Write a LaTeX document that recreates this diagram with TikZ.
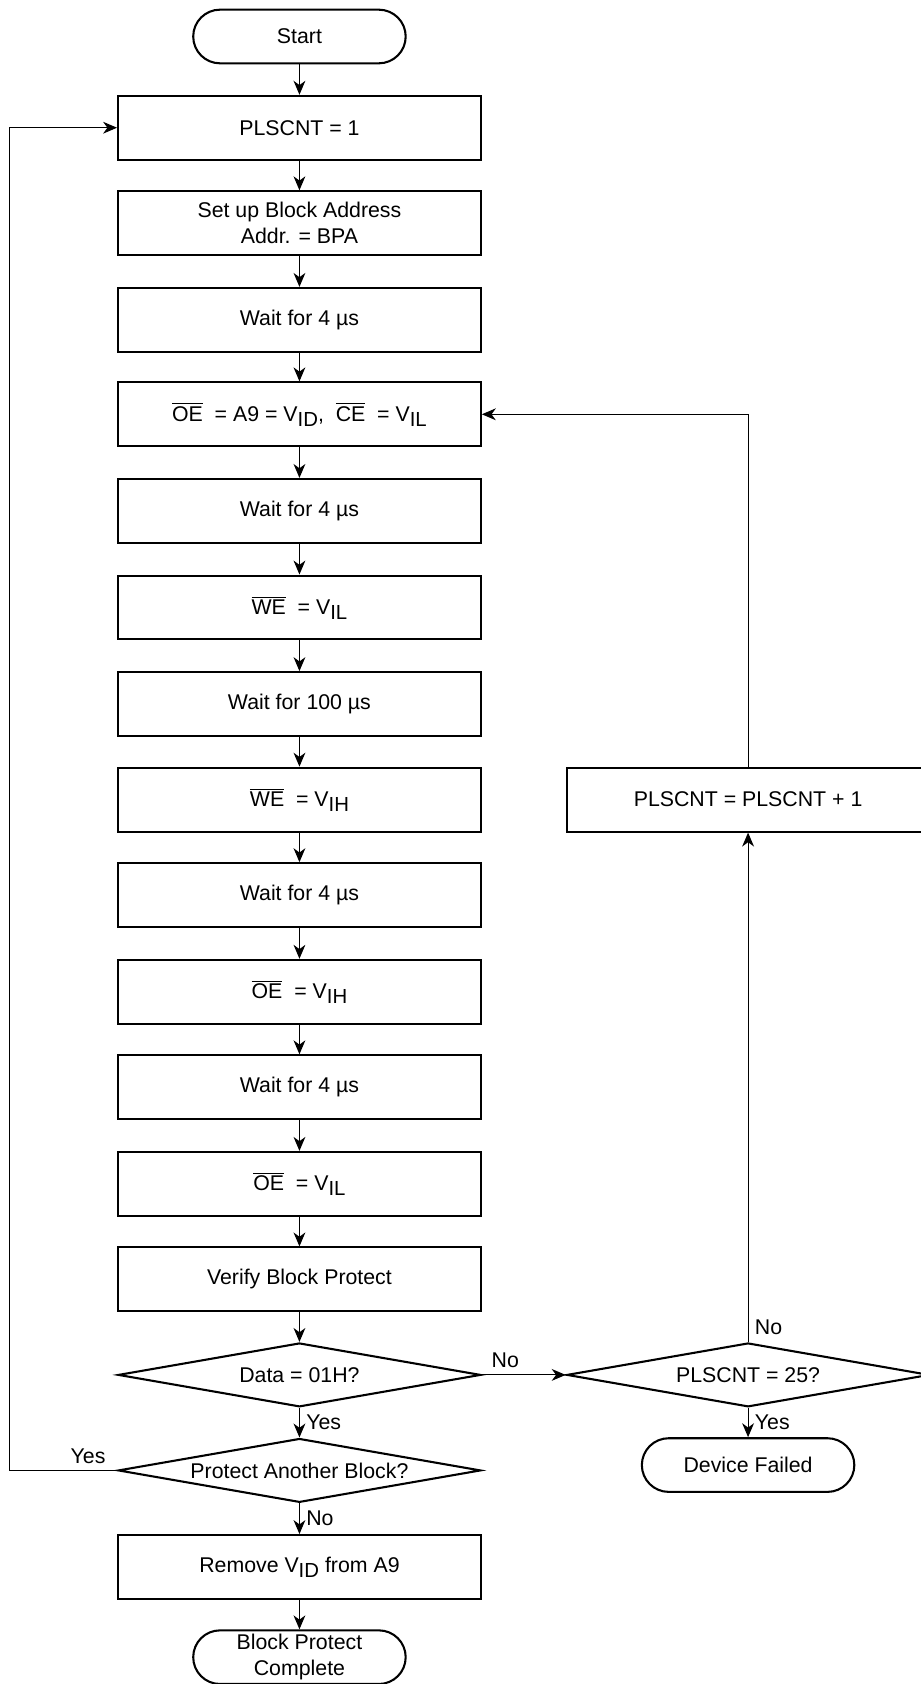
\documentclass[tikz,border=0pt]{standalone}
\usepackage{fontspec}
\setmainfont{Liberation Sans}
\usetikzlibrary{arrows.meta,shapes.geometric,positioning}

\newcommand{\ovl}[1]{$\overline{\mbox{#1}}$}
\newcommand{\subs}[1]{\raisebox{-0.45ex}{\fontsize{10.8}{12}\selectfont #1}}

\begin{document}
\begin{tikzpicture}[x=0.02cm, y=-0.02cm,
  every node/.style={font=\fontsize{11.3}{13.8}\selectfont},
  box/.style={draw, line width=1.1pt, minimum width=6.76cm, minimum height=1.19cm, inner sep=0pt},
  term/.style={draw, line width=1.1pt, rounded corners=0.5cm, minimum width=3.96cm, minimum height=1cm, inner sep=0pt, align=center},
  decision/.style={draw, diamond, line width=1.1pt, minimum width=6.76cm, minimum height=1.19cm, inner sep=0pt, shape aspect=5.6},
  arr/.style={line width=0.6pt, -{Stealth[length=2.6mm, width=2.2mm, inset=0.8mm]}}]
  \useasboundingbox (0,0) rectangle (858,1569);

  % main column
  \node at (279,34) [term] (start) {Start};
  \node at (279,119) [box] (cnt) {PLSCNT = 1};
  \node at (279,208) [box, align=center] (addr) {Set up Block Address\\Addr. = BPA};
  \node at (279,298) [box] (wait1) {Wait for 4 µs};
  \node at (279,386) [box] (oeid) {\ovl{OE}\ \ = A9 = V\subs{ID}, \ \ovl{CE}\ \ = V\subs{IL}};
  \node at (279,476) [box] (wait2) {Wait for 4 µs};
  \node at (279,566) [box] (welo) {\ovl{WE}\ \ = V\subs{IL}};
  \node at (279,656) [box] (wait3) {Wait for 100 µs};
  \node at (279,745) [box] (wehi) {\ovl{WE}\ \ = V\subs{IH}};
  \node at (279,834) [box] (wait4) {Wait for 4 µs};
  \node at (279,924) [box] (oehi) {\ovl{OE}\ \ = V\subs{IH}};
  \node at (279,1013) [box] (wait5) {Wait for 4 µs};
  \node at (279,1103) [box] (oelo) {\ovl{OE}\ \ = V\subs{IL}};
  \node at (279,1192) [box] (verify) {Verify Block Protect};
  \node at (279,1281) [decision] (data) {Data = 01H?};
  \node at (279,1370) [decision] (another) {Protect Another Block?};
  \node at (279,1460) [box] (remove) {Remove V\subs{ID} from A9};
  \node at (279,1544) [term] (done) {Block Protect\\Complete};

  % retry column
  \node at (697,745) [box] (inc) {PLSCNT = PLSCNT + 1};
  \node at (697,1281) [decision] (pcheck) {PLSCNT = 25?};
  \node at (697,1365) [term] (fail) {Device Failed};

  \draw[arr] (start) -- (cnt);
  \draw[arr] (cnt) -- (addr);
  \draw[arr] (addr) -- (wait1);
  \draw[arr] (wait1) -- (oeid);
  \draw[arr] (oeid) -- (wait2);
  \draw[arr] (wait2) -- (welo);
  \draw[arr] (welo) -- (wait3);
  \draw[arr] (wait3) -- (wehi);
  \draw[arr] (wehi) -- (wait4);
  \draw[arr] (wait4) -- (oehi);
  \draw[arr] (oehi) -- (wait5);
  \draw[arr] (wait5) -- (oelo);
  \draw[arr] (oelo) -- (verify);
  \draw[arr] (verify) -- (data);
  \draw[arr] (data.south) -- node[right] {Yes} (another.north);
  \draw[arr] (another.south) -- node[right] {No} (remove.north);
  \draw[arr] (remove) -- (done);

  \draw[arr] (data.east) -- node[pos=0.28, above] {No} (pcheck.west);
  \draw[arr] (pcheck.north) node[above right] {No} -- (inc.south);
  \draw[arr] (pcheck.south) -- node[right] {Yes} (fail.north);
  \draw[arr] (inc.north) |- (oeid.east);
  \draw[arr] (another.west) -- node[pos=0.27, above] {Yes} ++(-100,0) |- (cnt.west);
\end{tikzpicture}
\end{document}
